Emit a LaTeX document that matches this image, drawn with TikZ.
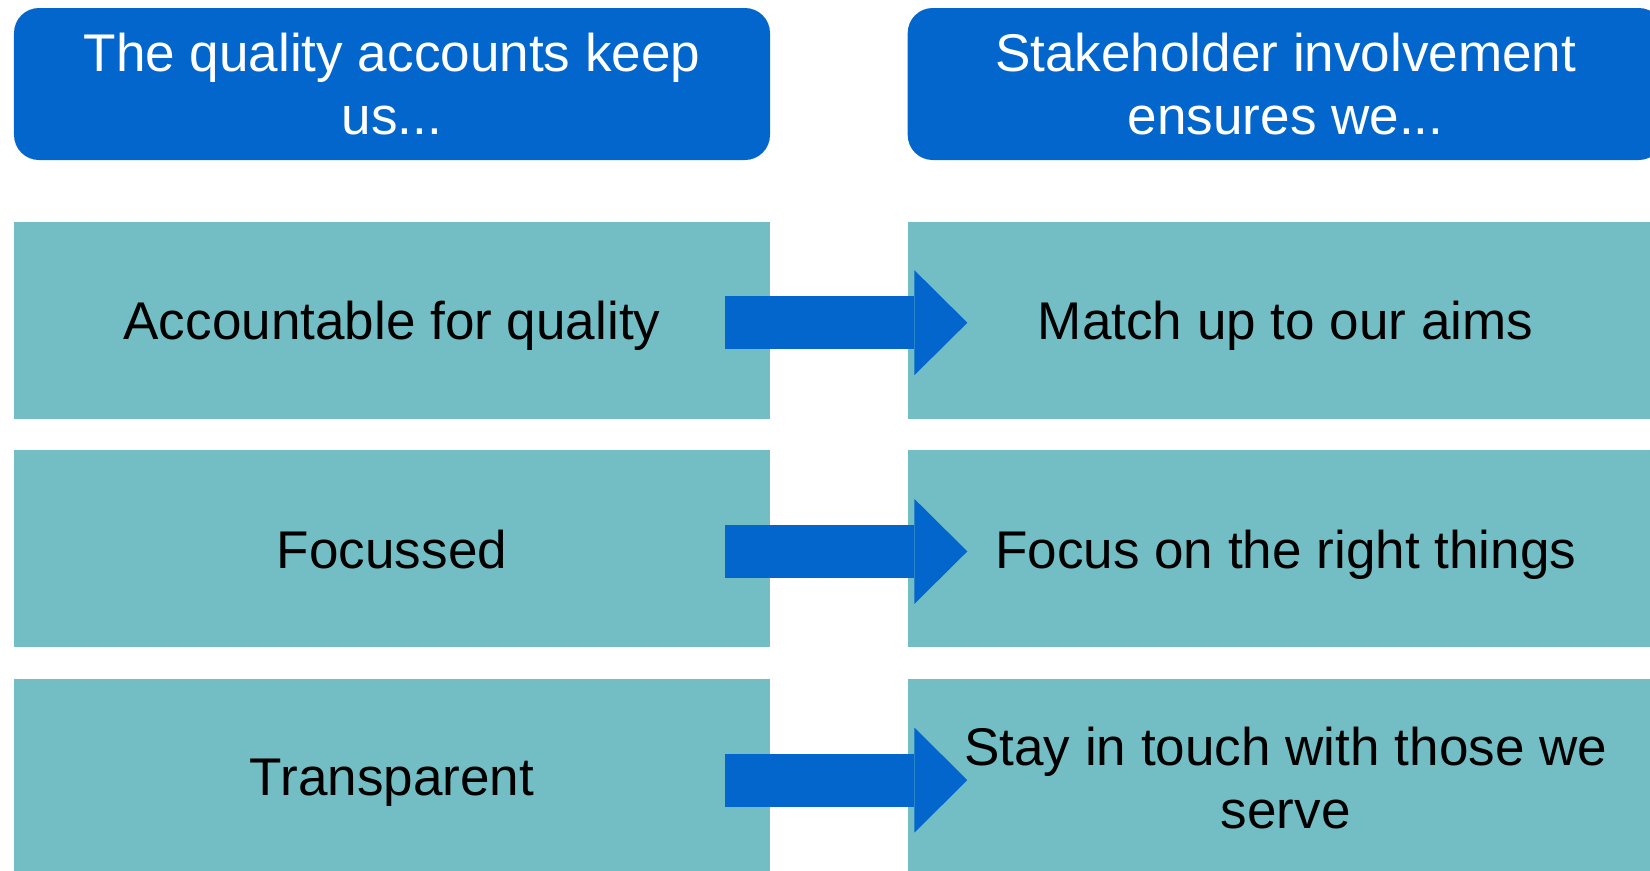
\documentclass[tikz,border=0pt]{standalone}
\usepackage{fontspec}
\setmainfont{Liberation Sans}
\usepackage{xcolor}
\usetikzlibrary{positioning,arrows.meta}
\definecolor{headblue}{RGB}{3,102,204}
\definecolor{rowteal}{RGB}{115,190,196}
\tikzset{
  head/.style={fill=headblue,text=white,rounded corners=0.5cm,minimum width=15.12cm,minimum height=3.04cm,align=center,font=\fontsize{30.2}{35.6}\selectfont},
  row/.style={fill=rowteal,minimum width=15.12cm,minimum height=3.94cm,text depth=0pt,align=center,font=\fontsize{30.2}{35.6}\selectfont},
  fat/.style={headblue,line width=1.06cm,-{Triangle[length=1.06cm,width=2.1cm,line width=0pt]}}
}

\begin{document}
\begin{tikzpicture}
    \clip (0,0) rectangle (33,-17.4);
    \node[head] (head1) at (7.84,-1.68) {The quality accounts keep\\us...};
    \node[head,right=2.74cm of head1] (head2) {Stakeholder involvement\\ensures we...};
    \node[row,below=1.22cm of head1] (l1) {Accountable for quality};
    \node[row,below=0.62cm of l1] (l2) {Focussed};
    \node[row,below=0.62cm of l2] (l3) {Transparent};
    \node[row,below=1.22cm of head2] (r1) {Match up to our aims};
    \node[row,below=0.62cm of r1] (r2) {Focus on the right things};
    \node[row,below=0.62cm of r2] (r3) {Stay in touch with those we\\serve};
    \draw[fat] ([xshift=-0.9cm,yshift=-0.05cm]l1.east) -- ([xshift=1.2cm,yshift=-0.05cm]r1.west);
    \draw[fat] ([xshift=-0.9cm,yshift=-0.05cm]l2.east) -- ([xshift=1.2cm,yshift=-0.05cm]r2.west);
    \draw[fat] ([xshift=-0.9cm,yshift=-0.05cm]l3.east) -- ([xshift=1.2cm,yshift=-0.05cm]r3.west);
\end{tikzpicture}
\end{document}
